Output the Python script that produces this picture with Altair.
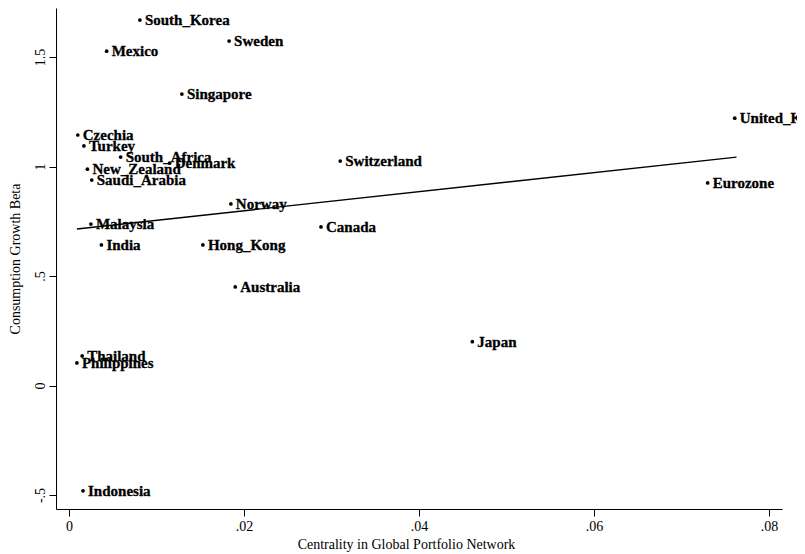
import altair as alt
import pandas as pd

countries = ["South_Korea", "Sweden", "Mexico", "Singapore", "Czechia", "Turkey",
             "South_Africa", "Denmark", "New_Zealand", "Saudi_Arabia", "Switzerland",
             "United_Kingdom", "Eurozone", "Norway", "Malaysia", "India", "Hong_Kong",
             "Canada", "Australia", "Japan", "Thailand", "Philippines", "Indonesia"]
centrality = [0.0081, 0.0183, 0.0043, 0.0129, 0.0010, 0.0017,
              0.0059, 0.0115, 0.0021, 0.0026, 0.0310,
              0.0761, 0.0730, 0.0185, 0.0025, 0.0037, 0.0153,
              0.0288, 0.0190, 0.0461, 0.0015, 0.0009, 0.0016]
beta = [1.669, 1.573, 1.527, 1.331, 1.144, 1.094,
        1.043, 1.016, 0.988, 0.938, 1.025,
        1.221, 0.925, 0.829, 0.737, 0.642, 0.642,
        0.724, 0.450, 0.200, 0.135, 0.103, -0.481]

fit_x = [0.0009, 0.0763]
fit_y = [0.715, 1.043]

x_ticks = [0, 0.02, 0.04, 0.06, 0.08]
y_ticks = [-0.5, 0, 0.5, 1, 1.5]

df = pd.DataFrame({"country": countries, "centrality": centrality, "beta": beta})
fit_df = pd.DataFrame({"centrality": fit_x, "beta": fit_y})

FONT = "Liberation Serif"

x_enc = alt.X("centrality:Q",
              scale=alt.Scale(domain=[-0.00149, 0.0815], nice=False, zero=False),
              axis=alt.Axis(values=x_ticks, title="Centrality in Global Portfolio Network",
                            labelExpr="replace(toString(datum.value), '0.', '.')",
                            titleX=350))
y_enc = alt.Y("beta:Q",
              scale=alt.Scale(domain=[-0.564, 1.724], nice=False, zero=False),
              axis=alt.Axis(values=y_ticks, title="Consumption Growth Beta",
                            labelExpr="replace(toString(datum.value), '0.', '.')",
                            labelAngle=270, labelAlign="center", labelBaseline="alphabetic",
                            labelPadding=5, titlePadding=11))

points = alt.Chart(df).mark_circle(size=14, color="black", opacity=1).encode(x=x_enc, y=y_enc)
labels = alt.Chart(df).mark_text(align="left", baseline="middle", dx=5, font=FONT,
                                 fontWeight="bold", fontSize=15, color="black",
                                 stroke="black", strokeWidth=0.3).encode(
    x=x_enc, y=y_enc, text="country:N")
fit = alt.Chart(fit_df).mark_line(color="black", strokeWidth=1.4).encode(x=x_enc, y=y_enc)

chart = alt.layer(fit, points, labels).properties(
    width=726, height=501,
    autosize=alt.AutoSizeParams(type="none"),
    padding={"left": 48, "top": 0, "right": 15, "bottom": 45},
).configure_view(stroke=None).configure_axis(
    grid=False, domainColor="black", tickColor="black", labelColor="black",
    titleColor="black", labelFont=FONT, titleFont=FONT, labelFontSize=14,
    titleFontSize=14, titleFontWeight="normal", tickSize=7, domainWidth=1, tickWidth=1,
    labelPadding=3, titlePadding=4
)

chart.save("out.html", embed_options={"renderer": "svg", "actions": False})
